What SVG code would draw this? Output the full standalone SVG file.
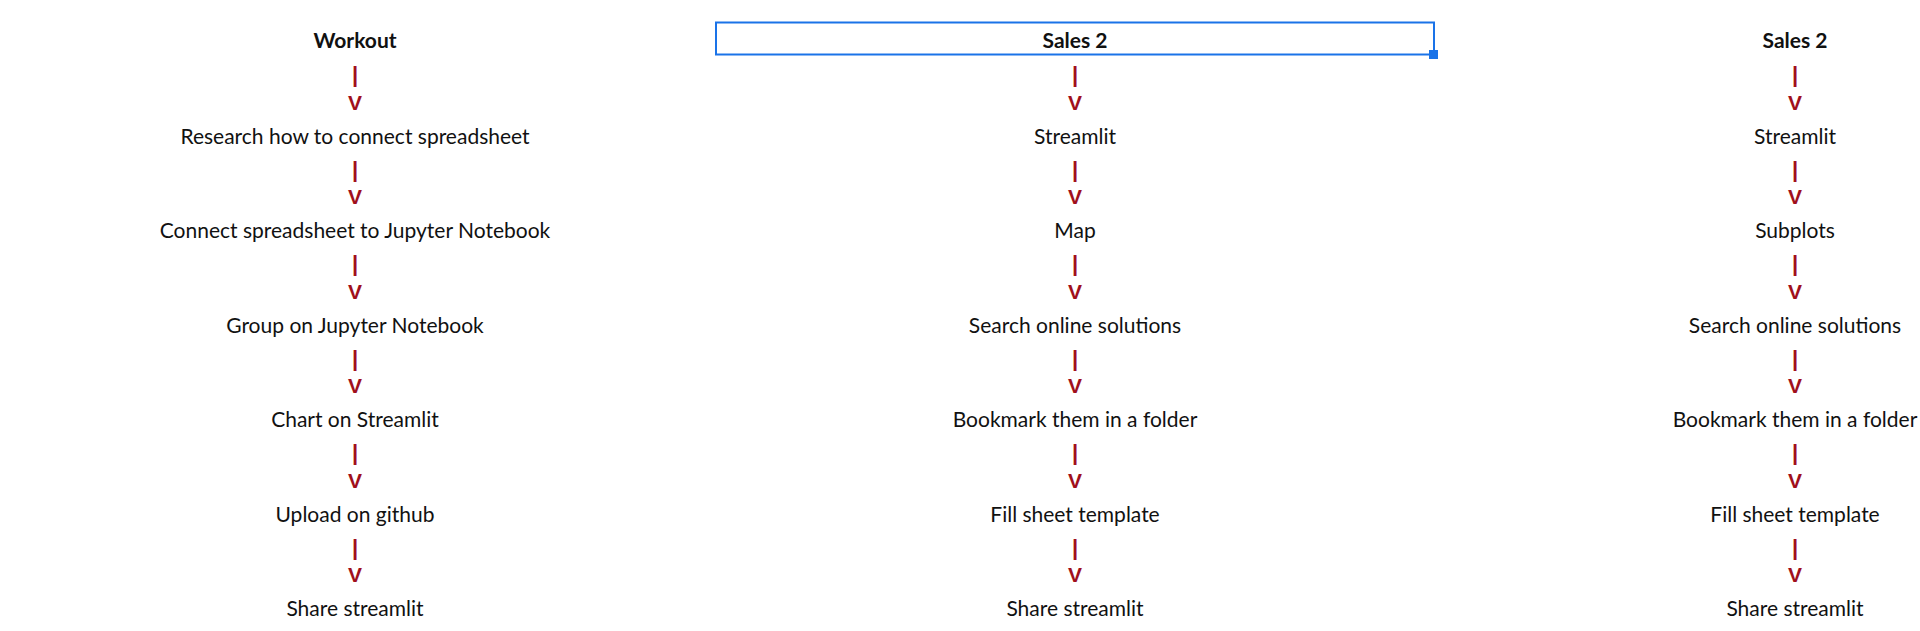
<svg xmlns="http://www.w3.org/2000/svg" width="1920" height="631" viewBox="0 0 1920 631">
<style>
.t{font-family:Lato,"Open Sans","Liberation Sans",sans-serif;font-size:21px;fill:#111;text-anchor:middle}
.h{font-weight:bold}
.c{font-family:"Liberation Sans",sans-serif;font-size:21px;fill:#a0101c;text-anchor:middle;font-weight:bold}
.b{font-size:22px;font-weight:bold}
</style>
<rect width="1920" height="631" fill="#fff"/>
<g id="sel">
<rect x="716" y="22.5" width="718" height="32" fill="none" stroke="#1a73e8" stroke-width="2"/>
<rect x="1429" y="50" width="9" height="9" fill="#1a73e8"/>
</g>
<g id="col1">
<g id="n1-0"><text class="t h" x="355" y="47.5">Workout</text></g>
<g id="n1-1"><text class="t" x="355" y="143.5">Research how to connect spreadsheet</text></g>
<g id="n1-2"><text class="t" x="355" y="238">Connect spreadsheet to Jupyter Notebook</text></g>
<g id="n1-3"><text class="t" x="355" y="332.5">Group on Jupyter Notebook</text></g>
<g id="n1-4"><text class="t" x="355" y="427">Chart on Streamlit</text></g>
<g id="n1-5"><text class="t" x="355" y="521.5">Upload on github</text></g>
<g id="n1-6"><text class="t" x="355" y="616">Share streamlit</text></g>
</g>
<g id="col2">
<g id="n2-0"><text class="t h" x="1075" y="47.5">Sales 2</text></g>
<g id="n2-1"><text class="t" x="1075" y="143.5">Streamlit</text></g>
<g id="n2-2"><text class="t" x="1075" y="238">Map</text></g>
<g id="n2-3"><text class="t" x="1075" y="332.5">Search online solutions</text></g>
<g id="n2-4"><text class="t" x="1075" y="427">Bookmark them in a folder</text></g>
<g id="n2-5"><text class="t" x="1075" y="521.5">Fill sheet template</text></g>
<g id="n2-6"><text class="t" x="1075" y="616">Share streamlit</text></g>
</g>
<g id="col3">
<g id="n3-0"><text class="t h" x="1795" y="47.5">Sales 2</text></g>
<g id="n3-1"><text class="t" x="1795" y="143.5">Streamlit</text></g>
<g id="n3-2"><text class="t" x="1795" y="238">Subplots</text></g>
<g id="n3-3"><text class="t" x="1795" y="332.5">Search online solutions</text></g>
<g id="n3-4"><text class="t" x="1795" y="427">Bookmark them in a folder</text></g>
<g id="n3-5"><text class="t" x="1795" y="521.5">Fill sheet template</text></g>
<g id="n3-6"><text class="t" x="1795" y="616">Share streamlit</text></g>
</g>
<g id="connectors">
<g id="k1">
<text class="c b" x="355" y="82">|</text><text class="c" x="355" y="109.5">V</text>
<text class="c b" x="355" y="176.5">|</text><text class="c" x="355" y="204">V</text>
<text class="c b" x="355" y="271">|</text><text class="c" x="355" y="298.5">V</text>
<text class="c b" x="355" y="365.5">|</text><text class="c" x="355" y="393">V</text>
<text class="c b" x="355" y="460">|</text><text class="c" x="355" y="487.5">V</text>
<text class="c b" x="355" y="554.5">|</text><text class="c" x="355" y="582">V</text>
</g>
<g id="k2">
<text class="c b" x="1075" y="82">|</text><text class="c" x="1075" y="109.5">V</text>
<text class="c b" x="1075" y="176.5">|</text><text class="c" x="1075" y="204">V</text>
<text class="c b" x="1075" y="271">|</text><text class="c" x="1075" y="298.5">V</text>
<text class="c b" x="1075" y="365.5">|</text><text class="c" x="1075" y="393">V</text>
<text class="c b" x="1075" y="460">|</text><text class="c" x="1075" y="487.5">V</text>
<text class="c b" x="1075" y="554.5">|</text><text class="c" x="1075" y="582">V</text>
</g>
<g id="k3">
<text class="c b" x="1795" y="82">|</text><text class="c" x="1795" y="109.5">V</text>
<text class="c b" x="1795" y="176.5">|</text><text class="c" x="1795" y="204">V</text>
<text class="c b" x="1795" y="271">|</text><text class="c" x="1795" y="298.5">V</text>
<text class="c b" x="1795" y="365.5">|</text><text class="c" x="1795" y="393">V</text>
<text class="c b" x="1795" y="460">|</text><text class="c" x="1795" y="487.5">V</text>
<text class="c b" x="1795" y="554.5">|</text><text class="c" x="1795" y="582">V</text>
</g>
</g>
</svg>
